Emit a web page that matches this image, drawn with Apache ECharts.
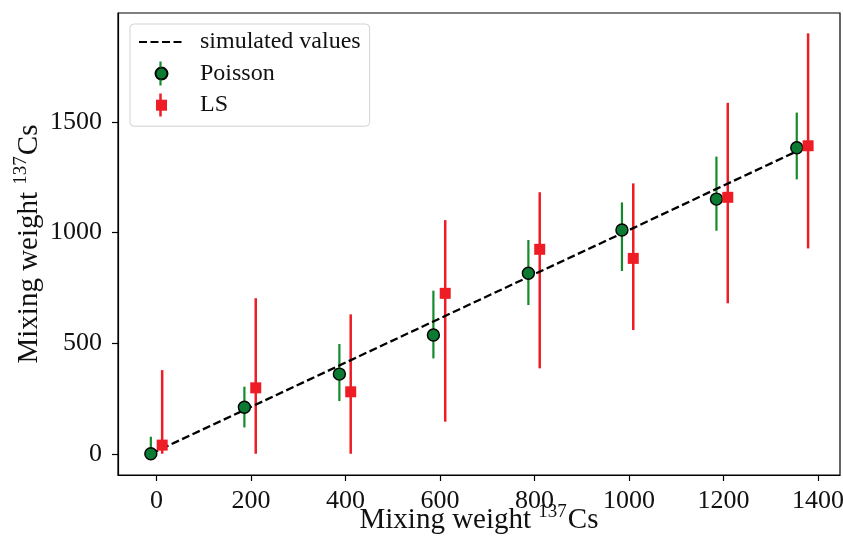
<!DOCTYPE html>
<html>
<head>
<meta charset="utf-8">
<script src="https://cdn.jsdelivr.net/npm/echarts@6/dist/echarts.min.js"></script>
<style>html,body{margin:0;padding:0;background:#fff;}#c{width:843px;height:538px;}</style>
</head>
<body>
<div id="c"></div>
<script>
// ---- data ----
const poissonX  = [-12, 186, 387, 586, 787, 985, 1185, 1355];
const poissonY  = [0, 210, 360, 537, 816, 1011, 1151, 1383];
const poissonLo = [0, 119, 238, 431, 672, 826, 1008, 1240];
const poissonHi = [77, 303, 496, 737, 966, 1136, 1343, 1542];
const lsX  = [12, 210, 411, 611, 811, 1009, 1209, 1379];
const lsY  = [39, 298, 280, 725, 924, 883, 1159, 1392];
const lsLo = [0, 0, 0, 145, 386, 559, 680, 928];
const lsHi = [378, 703, 630, 1056, 1182, 1222, 1586, 1900];
const simY = [0, 198, 399, 598, 799, 996, 1197, 1367];
const xTicks = [0, 200, 400, 600, 800, 1000, 1200, 1400];
const yTicks = [0, 500, 1000, 1500];

const FONT = 'Liberation Serif';
const TXT = '#111';
const GREEN_FILL = '#0b7a33';
const GREEN_BAR = '#138a2c';
const RED = '#ee1d25';

function errRender(color, w) {
  return function (params, api) {
    const x = api.value(0), lo = api.value(1), hi = api.value(2);
    const p1 = api.coord([x, lo]), p2 = api.coord([x, hi]);
    return {type: 'line', shape: {x1: p1[0], y1: p1[1], x2: p2[0], y2: p2[1]},
            style: {stroke: color, lineWidth: w}};
  };
}

const nameRich = {
  a: {fontFamily: FONT, fontSize: 29, color: TXT, verticalAlign: 'bottom', lineHeight: 32},
  s: {fontFamily: FONT, fontSize: 19, color: TXT, verticalAlign: 'top', lineHeight: 32, padding: [0, 1, 0, 0]}
};
const nameText = '{a|Mixing weight }{s|137}{a|Cs}';

const chart = echarts.init(document.getElementById('c'), null, {renderer: 'canvas'});
chart.setOption({
  animation: false,
  backgroundColor: '#fff',
  grid: {left: 118, right: 3, top: 13, bottom: 63, outerBoundsMode: 'none', containLabel: false,
         show: true, borderColor: '#000', borderWidth: 1.2, backgroundColor: 'transparent'},
  xAxis: {
    type: 'value', min: -81.5, max: 1446.5,
    splitLine: {show: false},
    axisLine: {show: true, onZero: false, lineStyle: {color: '#000', width: 1.2}},
    axisTick: {show: true, inside: false, length: 6, lineStyle: {color: '#000', width: 1.2}, customValues: xTicks},
    axisLabel: {customValues: xTicks, margin: 13, fontFamily: FONT, fontSize: 26, color: TXT,
                formatter: v => String(v)},
    name: nameText, nameLocation: 'middle', nameGap: 28, nameMoveOverlap: false,
    nameTextStyle: {rich: nameRich}
  },
  yAxis: {
    type: 'value', min: -96, max: 1992,
    splitLine: {show: false},
    axisLine: {show: true, onZero: false, lineStyle: {color: '#000', width: 1.2}},
    axisTick: {show: true, inside: false, length: 6, lineStyle: {color: '#000', width: 1.2}, customValues: yTicks},
    axisLabel: {customValues: yTicks, margin: 16, fontFamily: FONT, fontSize: 26, color: TXT,
                formatter: v => String(v)},
    name: nameText, nameLocation: 'middle', nameGap: 74, nameRotate: 90, nameMoveOverlap: false,
    nameTextStyle: {rich: nameRich}
  },
  legend: {
    orient: 'vertical', left: 130, top: 24,
    padding: [6, 9, 9, 8], itemGap: 7.6, itemWidth: 45, itemHeight: 12,
    backgroundColor: 'rgba(255,255,255,0.8)', borderColor: '#d3d3d3', borderWidth: 1, borderRadius: 4,
    textStyle: {fontFamily: FONT, fontSize: 24, lineHeight: 24, color: TXT, padding: [0, 0, 0, 11]},
    data: [
      {name: 'simulated values', itemStyle: {color: 'rgba(0,0,0,0)', borderWidth: 0, opacity: 0}},
      {name: 'Poisson', icon: 'circle'},
      {name: 'LS', icon: 'path://M0,0M45,12M17,0.5h11v11h-11z'}
    ],
    selectedMode: false
  },
  series: [
    {
      name: 'Poisson err', type: 'custom', z: 1,
      renderItem: errRender(GREEN_BAR, 2.2),
      data: poissonX.map((x, i) => [x, poissonLo[i], poissonHi[i]]),
      encode: {x: 0, y: [1, 2]}, silent: true
    },
    {
      name: 'LS err', type: 'custom', z: 1,
      renderItem: errRender(RED, 2.5),
      data: lsX.map((x, i) => [x, lsLo[i], lsHi[i]]),
      encode: {x: 0, y: [1, 2]}, silent: true
    },
    {
      name: 'simulated values', type: 'line', z: 2, symbol: 'none',
      data: poissonX.map((x, i) => [x, simY[i]]),
      lineStyle: {color: '#000', width: 2.3, type: [8, 3.5]},
      itemStyle: {color: '#000'}, silent: true
    },
    {
      name: 'Poisson', type: 'scatter', z: 3, symbol: 'circle', symbolSize: 12,
      data: poissonX.map((x, i) => [x, poissonY[i]]),
      itemStyle: {color: GREEN_FILL, borderColor: '#000', borderWidth: 1.4, opacity: 1}, silent: true
    },
    {
      name: 'LS', type: 'scatter', z: 3, symbol: 'rect', symbolSize: 11,
      data: lsX.map((x, i) => [x, lsY[i]]),
      itemStyle: {color: RED, opacity: 1}, silent: true
    }
  ],
  graphic: [
    {type: 'line', z: 100, shape: {x1: 160.5, y1: 61.5, x2: 160.5, y2: 67.5}, style: {stroke: GREEN_BAR, lineWidth: 2.2}},
    {type: 'line', z: 100, shape: {x1: 160.5, y1: 79.5, x2: 160.5, y2: 85.5}, style: {stroke: GREEN_BAR, lineWidth: 2.2}},
    {type: 'line', z: 100, shape: {x1: 160.5, y1: 93.5, x2: 160.5, y2: 116.5}, style: {stroke: RED, lineWidth: 2.5}}
  ]
});
</script>
</body>
</html>
